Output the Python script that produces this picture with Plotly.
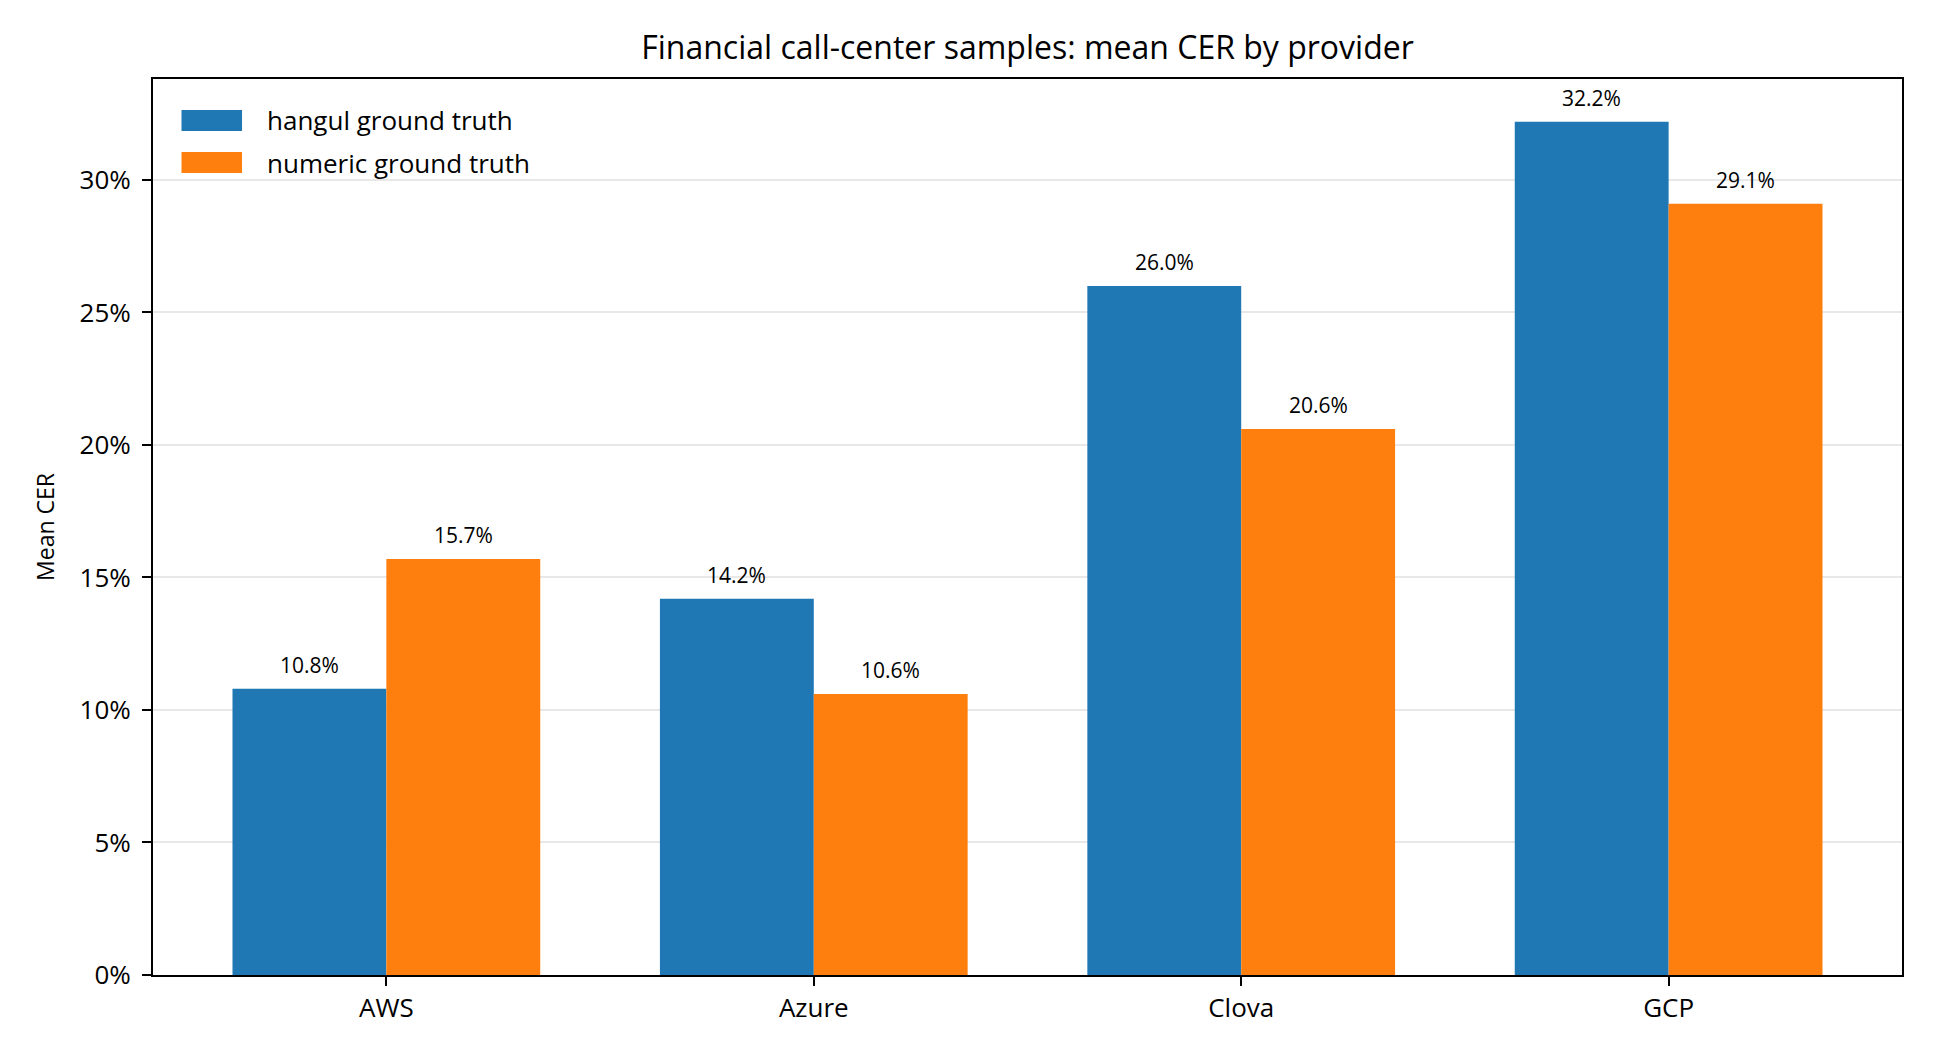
import plotly.graph_objects as go

providers = ["AWS", "Azure", "Clova", "GCP"]
hangul_cer = [10.8, 14.2, 26.0, 32.2]
numeric_cer = [15.7, 10.6, 20.6, 29.1]
series_names = ["hangul ground truth", "numeric ground truth"]
colors = ["#1f77b4", "#ff7f0e"]

W = 0.36
FONT = "Open Sans, Noto Sans, sans-serif"

idx = list(range(len(providers)))
fig = go.Figure()
annotations = []
for k, (vals, name, col) in enumerate(zip([hangul_cer, numeric_cer], series_names, colors)):
    off = (-W / 2) if k == 0 else (W / 2)
    xs = [i + off for i in idx]
    fig.add_trace(go.Bar(
        x=xs, y=vals, width=W, name=name, showlegend=False,
        marker=dict(color=col, line=dict(width=0)),
    ))
    for x, v in zip(xs, vals):
        annotations.append(dict(
            x=x, y=v, xref="x", yref="y", text=f"{v:.1f}%",
            showarrow=False, yanchor="bottom", yshift=8,
            font=dict(family=FONT, size=21, color="black"),
        ))

# custom legend (paper coordinates of the plot area)
shapes = []
leg_rows = [(0.9654, 0.942), (0.9185, 0.895)]
for (y1, y0), name, col in zip(leg_rows, series_names, colors):
    shapes.append(dict(type="rect", xref="paper", yref="paper",
                       x0=0.0163, x1=0.0509, y0=y0, y1=y1,
                       fillcolor=col, line=dict(width=0)))
    annotations.append(dict(x=0.0642, y=(y0 + y1) / 2, xref="paper", yref="paper",
                            text=name, showarrow=False, xanchor="left", yanchor="middle",
                            font=dict(family=FONT, size=26, color="black")))

ymax = max(max(hangul_cer), max(numeric_cer)) * 1.05
xpad = (len(providers) - 1 + 2 * W) * 0.05

fig.update_layout(
    width=1936, height=1056,
    margin=dict(l=153, r=34, t=79, b=81),
    paper_bgcolor="white", plot_bgcolor="white",
    font=dict(family=FONT, size=23, color="black"),
    title=dict(text="Financial call-center samples: mean CER by provider",
               x=0.5, xref="paper", xanchor="center", y=1 - 48 / 1056, yanchor="middle",
               font=dict(family=FONT, size=32, color="black")),
    barmode="overlay",
    showlegend=False,
    annotations=annotations,
    shapes=shapes,
)
fig.update_xaxes(
    range=[-W - xpad, len(providers) - 1 + W + xpad],
    tickvals=idx, ticktext=providers,
    showline=True, linecolor="black", linewidth=2, mirror=True,
    ticks="outside", ticklen=9, tickwidth=1.5, tickcolor="black",
    showgrid=False, zeroline=False,
    tickfont=dict(family=FONT, size=26),
)
fig.update_yaxes(
    range=[0, ymax],
    tickvals=[0, 5, 10, 15, 20, 25, 30],
    ticktext=["0%", "5%", "10%", "15%", "20%", "25%", "30%"],
    showline=True, linecolor="black", linewidth=2, mirror=True,
    ticks="outside", ticklen=9, tickwidth=1.5, tickcolor="black",
    ticklabelstandoff=6,
    showgrid=True, gridcolor="#e8e8e8", gridwidth=1.5, zeroline=False,
    title=dict(text="Mean CER", font=dict(family=FONT, size=23), standoff=19),
    tickfont=dict(family=FONT, size=26),
)
fig.write_html("out.html")
